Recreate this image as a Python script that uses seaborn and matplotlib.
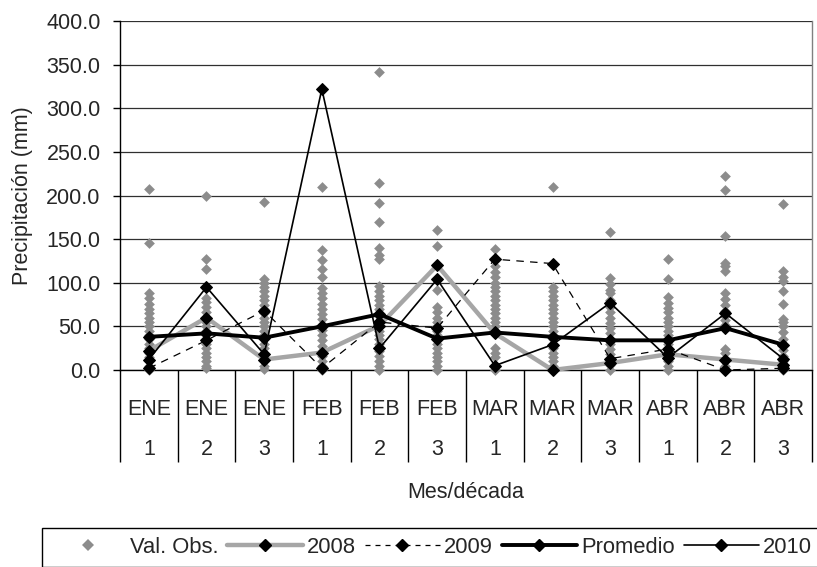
import matplotlib
matplotlib.use('Agg')
import matplotlib.pyplot as plt
import matplotlib.transforms as mtransforms
from matplotlib.lines import Line2D
import numpy as np
import pandas as pd
import seaborn as sns

# categorias (mes / decada)
meses = ['ENE', 'ENE', 'ENE', 'FEB', 'FEB', 'FEB', 'MAR', 'MAR', 'MAR', 'ABR', 'ABR', 'ABR']
decadas = ['1', '2', '3', '1', '2', '3', '1', '2', '3', '1', '2', '3']

obs_ene1 = [207, 146, 88, 82, 76, 70, 65, 60, 55, 50, 45, 40, 35, 30, 25, 20, 15, 10, 5, 2, 0]
obs_ene2 = [199, 127, 116, 82, 78, 72, 66, 60, 55, 50, 45, 40, 35, 30, 25, 20, 15, 10, 5, 2]
obs_ene3 = [193, 104, 100, 95, 90, 85, 80, 75, 70, 65, 60, 55, 50, 45, 40, 35, 30, 25, 20, 15, 10, 5, 1]
obs_feb1 = [210, 137, 126, 116, 107, 94, 88, 82, 76, 70, 64, 58, 52, 46, 40, 34, 28, 22, 16, 10, 5, 0]
obs_feb2 = [342, 214, 191, 170, 140, 132, 127, 96, 90, 85, 80, 75, 70, 62, 56, 50, 45, 40, 35, 30, 22, 16, 10, 5, 0]
obs_feb3 = [160, 142, 92, 72, 66, 60, 55, 50, 45, 40, 35, 30, 25, 20, 15, 10, 5, 0]
obs_mar1 = [139, 119, 112, 107, 100, 95, 90, 85, 80, 75, 70, 65, 60, 55, 50, 25, 20, 15, 0]
obs_mar2 = [210, 95, 90, 85, 80, 75, 70, 65, 60, 55, 50, 45, 40, 35, 30, 25, 20, 15, 10, 5, 0]
obs_mar3 = [158, 105, 98, 92, 88, 80, 72, 66, 60, 54, 48, 42, 36, 30, 24, 18, 12, 6, 0]
obs_abr1 = [127, 104, 84, 77, 71, 66, 60, 55, 50, 45, 40, 35, 30, 25, 20, 15, 10, 5, 0]
obs_abr2 = [222, 206, 154, 123, 119, 113, 88, 81, 75, 68, 62, 57, 52, 24, 19, 5, 0]
obs_abr3 = [190, 113, 107, 102, 91, 76, 59, 55, 50, 43, 36, 29, 23, 16, 10, 5, 0]
observados = [obs_ene1, obs_ene2, obs_ene3, obs_feb1, obs_feb2, obs_feb3,
              obs_mar1, obs_mar2, obs_mar3, obs_abr1, obs_abr2, obs_abr3]

# series anuales y promedio
serie_2008 = [22, 60, 12, 20, 51, 120, 42, 0, 8, 18, 12, 6]
serie_2009 = [2, 34, 68, 2, 55, 48, 127, 122, 13, 24, 0, 2]
promedio = [38, 42, 37, 50, 64, 36, 43, 38, 34, 34, 48, 29]
serie_2010 = [12, 95, 18, 322, 25, 104, 5, 29, 77, 14, 65, 13]

pos = np.arange(len(meses))
df_obs = pd.DataFrame([(i, v) for i, vals in enumerate(observados) for v in vals],
                      columns=['pos', 'valor'])

sns.set_style('white')
plt.rcParams['font.family'] = ['Liberation Sans', 'DejaVu Sans']
FS = 15.5

fig = plt.figure(figsize=(8.17, 5.67), dpi=100)
ax = fig.add_axes([120 / 817, 1 - 370 / 567, 692 / 817, 349 / 567])

gris_obs = '#8c8c8c'
gris_2008 = '#a6a6a6'

sns.scatterplot(data=df_obs, x='pos', y='valor', marker='D', color=gris_obs, s=30,
                linewidth=0, ax=ax, clip_on=False, zorder=3, legend=False)

estilo = dict(marker='D', markersize=6.5, markerfacecolor='black', markeredgecolor='black',
              clip_on=False, legend=False, ax=ax)
sns.lineplot(x=pos, y=serie_2008, color=gris_2008, lw=3.2, zorder=4, **estilo)
sns.lineplot(x=pos, y=serie_2009, color='black', lw=0.9, linestyle=(0, (6, 5)), zorder=5, **estilo)
sns.lineplot(x=pos, y=promedio, color='black', lw=2.8, zorder=6, **estilo)
sns.lineplot(x=pos, y=serie_2010, color='black', lw=1.2, zorder=7, **estilo)

ax.set_xlim(-0.5, len(meses) - 0.5)
ax.set_ylim(0, 400)
ax.set_yticks(np.arange(0, 401, 50))
ax.set_yticklabels([f'{v:.1f}' for v in np.arange(0, 401, 50)], fontsize=FS)
ax.yaxis.grid(True, color='#303030', lw=0.9)
ax.set_axisbelow(True)
for s in ['left', 'bottom']:
    ax.spines[s].set_color('black')
    ax.spines[s].set_linewidth(1.0)
ax.spines['top'].set_visible(False)
ax.spines['right'].set_color('#808080')
ax.spines['right'].set_linewidth(1.0)
ax.tick_params(axis='y', direction='out', length=5, width=1, color='black', pad=9, left=True)

# eje de categorias con dos niveles
ax.set_xticks(pos)
ax.set_xticklabels([])
ax.set_xticks(np.arange(-0.5, len(meses)), minor=True)
ax.tick_params(axis='x', which='major', length=0)
ax.tick_params(axis='x', which='minor', length=66, width=1, color='black', direction='out', bottom=True)
trans = mtransforms.blended_transform_factory(ax.transData, ax.transAxes)
for i in pos:
    ax.text(i, -0.112, meses[i], transform=trans, ha='center', va='center', fontsize=FS)
    ax.text(i, -0.227, decadas[i], transform=trans, ha='center', va='center', fontsize=FS)

ax.set_xlabel('')
ax.text(0.5, -0.35, 'Mes/década', transform=ax.transAxes, ha='center', va='center', fontsize=FS)
ax.set_ylabel('Precipitación (mm)', fontsize=FS)
ax.yaxis.set_label_coords(-87 / 692, 0.5)

marca = dict(marker='D', markersize=6.5, markerfacecolor='black', markeredgecolor='black')
handles = [
    Line2D([], [], ls='none', marker='D', markersize=6, color=gris_obs, markeredgewidth=0),
    Line2D([], [], color=gris_2008, lw=3.2, **marca),
    Line2D([], [], color='black', lw=0.9, ls=(0, (4, 4)), **marca),
    Line2D([], [], color='black', lw=2.8, **marca),
    Line2D([], [], color='black', lw=1.2, **marca),
]
etiquetas = ['Val. Obs.', '2008', '2009', 'Promedio', '2010']
leg = fig.legend(handles, etiquetas, loc='upper left', bbox_to_anchor=(42 / 817, 1 - 528 / 567),
                 ncol=5, fontsize=15.8, frameon=True, fancybox=False, framealpha=1,
                 edgecolor='black', handlelength=3.42, handletextpad=0.18, columnspacing=0.42,
                 borderaxespad=0, borderpad=0.4)
leg.get_frame().set_linewidth(1.0)

fig.savefig('out.png', dpi=100)
